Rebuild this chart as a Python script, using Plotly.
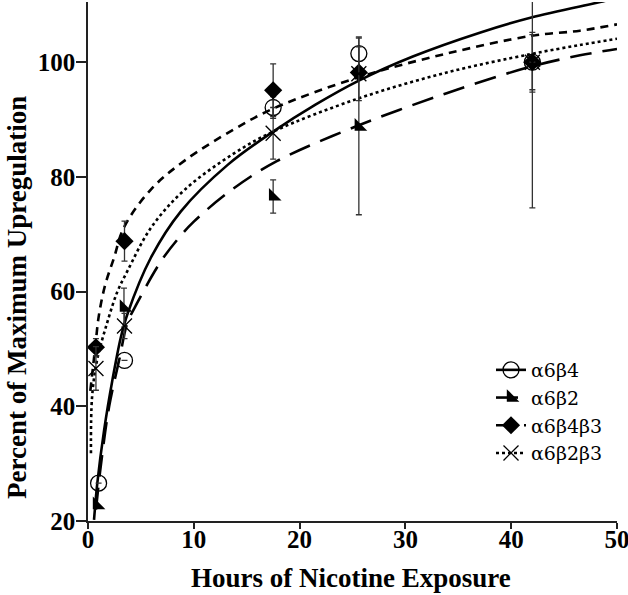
import plotly.graph_objects as go

# ---- measured data points (hours, percent) ----
b4_x = [1.0, 3.45, 17.5, 25.6, 42.0]
b4_y = [26.6, 48.0, 92.1, 101.5, 100.0]
b4_ep = [0.0, 0.0, 1.9, 2.9, 5.2]
b4_em = [0.0, 0.0, 1.9, 2.9, 5.2]

b2_x = [0.85, 3.4, 17.5, 25.6, 42.0]
b2_y = [22.8, 57.2, 76.6, 88.8, 100.0]
b2_ep = [0.0, 3.4, 2.9, 15.4, 25.4]
b2_em = [0.0, 3.4, 2.9, 15.4, 25.4]

b4b3_x = [0.75, 3.45, 17.5, 25.6, 42.0]
b4b3_y = [50.3, 68.8, 95.1, 98.2, 100.0]
b4b3_ep = [1.5, 3.5, 4.6, 0.0, 4.8]
b4b3_em = [1.5, 3.5, 4.6, 0.0, 4.8]

b2b3_x = [0.75, 3.45, 17.5, 25.6, 42.0]
b2b3_y = [46.6, 54.0, 87.6, 98.0, 100.0]
b2b3_ep = [3.8, 2.2, 4.5, 4.7, 0.0]
b2b3_em = [3.8, 2.2, 4.5, 4.7, 0.0]

# ---- fitted curves ----
fit_b4_x = [0.57, 0.88, 1.52, 2.3, 3.1, 3.73, 5.94, 8.78, 13.2, 17.5, 21.5, 25.6, 30.7, 37.1, 41.9, 48.4, 50]
fit_b4_y = [20.2, 26.6, 35.8, 44.5, 52.0, 56.1, 65.9, 74.0, 82.1, 87.9, 92.6, 96.8, 101.0, 105.2, 107.8, 110.5, 111.2]

fit_b2_x = [0.75, 1.2, 2.0, 3.0, 3.7, 4.7, 6.9, 8.6, 10.0, 13.4, 17.8, 25.6, 33.9, 41.8, 46.5, 50]
fit_b2_y = [22.0, 29.5, 40.0, 48.5, 54.4, 58.2, 65.3, 69.4, 72.2, 77.5, 82.7, 89.0, 94.6, 99.2, 101.2, 102.3]

fit_b4b3_x = [0.22, 0.45, 0.7, 1.0, 1.6, 2.46, 3.4, 5.94, 9.1, 13.8, 17.5, 25.6, 33.9, 41.9, 46.5, 50]
fit_b4b3_y = [42.7, 46.5, 50.5, 55.5, 61.0, 65.9, 71.2, 77.8, 82.8, 88.3, 91.9, 97.4, 101.5, 104.6, 105.5, 106.6]

fit_b2b3_x = [0.28, 0.38, 0.85, 1.8, 2.78, 3.73, 5.94, 9.1, 13.8, 17.5, 25.6, 33.9, 41.8, 46.5, 50]
fit_b2b3_y = [31.8, 41.5, 48.0, 54.5, 60.0, 63.6, 71.1, 77.7, 84.1, 87.9, 93.7, 98.2, 101.4, 103.0, 104.1]

names = ["α6β4", "α6β2", "α6β4β3", "α6β2β3"]
x_ticks = [0, 10, 20, 30, 40, 50]
y_ticks = [20, 40, 60, 80, 100]

FONT = "Liberation Serif"
W, H = 628, 595
L, R, T, B = 88, 11, 2, 74
pw, ph = W - L - R, H - T - B

series = [
    (b4_x, b4_y, b4_ep, b4_em, fit_b4_x, fit_b4_y, "solid",
     dict(symbol="circle-open", size=16, color="black", line=dict(color="black", width=1.3))),
    (b2_x, b2_y, b2_ep, b2_em, fit_b2_x, fit_b2_y, "22px,11px",
     dict(symbol="triangle-sw", size=14, color="black", line=dict(color="black", width=0))),
    (b4b3_x, b4b3_y, b4b3_ep, b4b3_em, fit_b4b3_x, fit_b4b3_y, "8px,6px",
     dict(symbol="diamond", size=14, color="black", line=dict(color="black", width=0))),
    (b2b3_x, b2b3_y, b2b3_ep, b2b3_em, fit_b2b3_x, fit_b2b3_y, "3px,3px",
     dict(symbol="x-thin-open", size=15, color="black", line=dict(color="black", width=1.3))),
]

fig = go.Figure()
for name, (px, py, ep, em, fx, fy, dash, mk) in zip(names, series):
    fig.add_trace(go.Scatter(
        x=fx, y=fy, mode="lines", line=dict(color="black", width=2.6, dash=dash, shape="spline"),
        showlegend=False, hoverinfo="skip"))
for name, (px, py, ep, em, fx, fy, dash, mk) in zip(names, series):
    fig.add_trace(go.Scatter(
        x=px, y=py, mode="markers", marker=mk, showlegend=False,
        error_y=dict(type="data", symmetric=False, array=ep, arrayminus=em,
                     color="#333333", thickness=1.3, width=3)))
for name, (px, py, ep, em, fx, fy, dash, mk) in zip(names, series):
    fig.add_trace(go.Scatter(
        x=[None], y=[None], mode="lines+markers", name=name,
        line=dict(color="black", width=2.6, dash=dash), marker=mk))

axis_common = dict(showline=True, linecolor="#222222", linewidth=1.5, ticks="outside",
                   tickcolor="#222222", tickwidth=1.5, showgrid=False, zeroline=False,
                   automargin=False, ticklabeloverflow="allow",
                   tickfont=dict(family=FONT, size=25, color="black", weight="bold"))

fig.update_layout(
    template="none",
    font=dict(family=FONT, color="black"),
    width=W, height=H,
    margin=dict(l=L, r=R, t=T, b=B, autoexpand=False),
    paper_bgcolor="white", plot_bgcolor="white",
    xaxis=dict(range=[0, 50], tickvals=x_ticks, ticklen=6, ticklabelstandoff=-11, **axis_common),
    yaxis=dict(range=[20, 110.5], tickvals=y_ticks, ticklen=10, ticklabelstandoff=-4, **axis_common),
    showlegend=True,
    legend=dict(x=(491 - L) / pw, y=(H - B - 351) / ph, xanchor="left", yanchor="top",
                bgcolor="rgba(0,0,0,0)", font=dict(family="DejaVu Serif", size=19, color="black"),
                tracegroupgap=0),
    annotations=[
        dict(text="<b>Hours of Nicotine Exposure</b>", xref="paper", yref="paper",
             x=(351 - L) / pw, y=(H - B - 595) / ph, xanchor="center", yanchor="bottom",
             showarrow=False, font=dict(family=FONT, size=27, color="black")),
        dict(text="<b>Percent of Maximum Upregulation</b>", xref="paper", yref="paper",
             x=(0 - L) / pw, y=(H - B - 298) / ph, xanchor="left", yanchor="middle",
             textangle=-90, showarrow=False, font=dict(family=FONT, size=27, color="black")),
    ],
)

fig.write_html("out.html", config={"displayModeBar": False},
               post_script="document.body.style.margin='0';document.body.style.padding='0';")
